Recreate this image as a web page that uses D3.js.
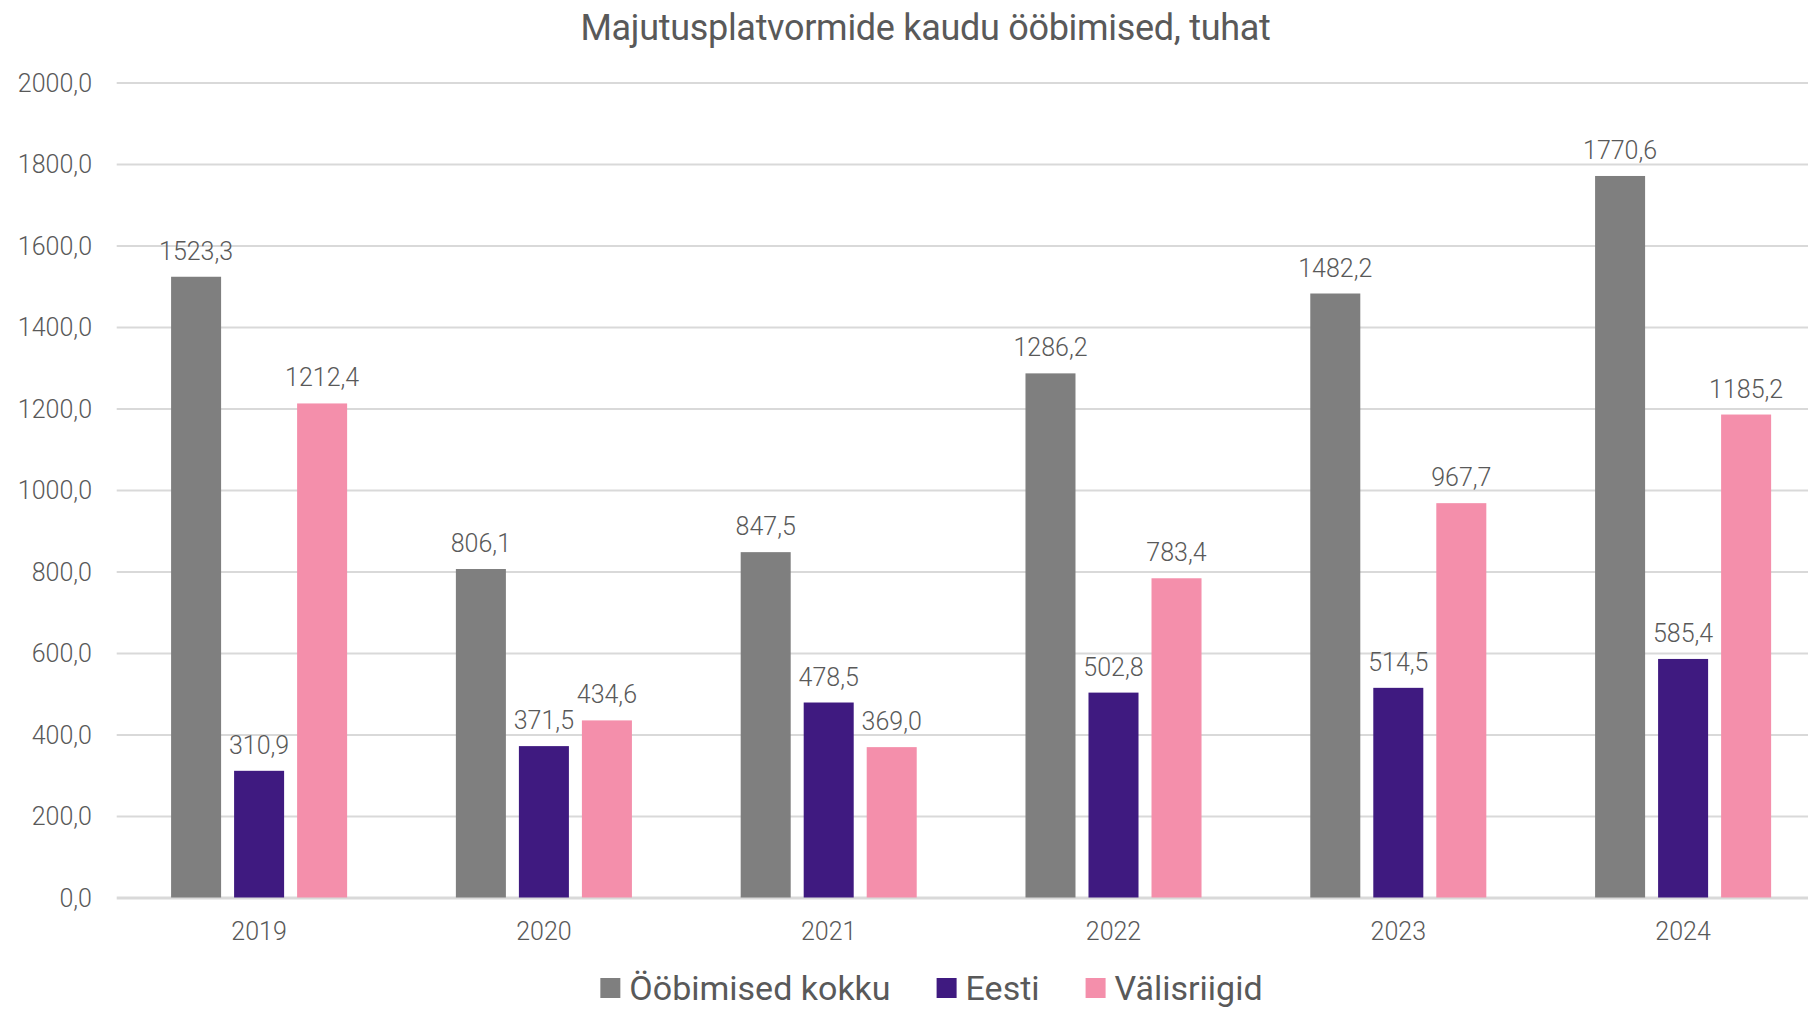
<!DOCTYPE html>
<html>
<head>
<meta charset="utf-8">
<script src="https://cdn.jsdelivr.net/npm/d3@7"></script>
<style>
  html, body { margin: 0; padding: 0; background: #fff; }
  svg { display: block; font-family: Roboto, "Noto Sans", sans-serif; }
</style>
</head>
<body>
<svg id="chart" width="1808" height="1010"></svg>
<script>
const title = "Majutusplatvormide kaudu ööbimised, tuhat";
const years = ["2019", "2020", "2021", "2022", "2023", "2024"];
const seriesNames = ["Ööbimised kokku", "Eesti", "Välisriigid"];
const seriesColors = ["#7f7f7f", "#3f1a80", "#f48fab"];
const kokku = [1523.3, 806.1, 847.5, 1286.2, 1482.2, 1770.6];
const eesti = [310.9, 371.5, 478.5, 502.8, 514.5, 585.4];
const valis = [1212.4, 434.6, 369.0, 783.4, 967.7, 1185.2];
const yTicks = [0, 200, 400, 600, 800, 1000, 1200, 1400, 1600, 1800, 2000];

(function () {
const seriesValues = [kokku, eesti, valis];
const data = years.map((yr, i) => ({
  year: yr,
  values: seriesNames.map((s, j) => ({ key: s, idx: j, value: seriesValues[j][i] }))
}));

const locale = d3.formatLocale({ decimal: ",", thousands: "", grouping: [3], currency: ["", ""] });
const fmt = locale.format(".1f");

const svg = d3.select("#chart");
const textColor = "#595959";
const pLeft = 116.7, pRight = 1825.5, pTop = 82.5, pBottom = 897.5;

const x0 = d3.scaleBand().domain(years).range([pLeft, pRight]).padding(0);
const x1 = d3.scaleBand().domain(seriesNames).range([0, x0.bandwidth()])
  .paddingInner(0.2063).paddingOuter(0.863);
const y = d3.scaleLinear().domain([0, 2000]).range([pBottom, pTop]);

// gridlines
const grid = svg.append("g")
  .attr("transform", `translate(${pLeft},0)`)
  .call(d3.axisLeft(y).tickValues(yTicks).tickSize(-(pRight - pLeft)).tickFormat(""));
grid.select(".domain").remove();
grid.selectAll(".tick line").attr("stroke", "#d9d9d9").attr("stroke-width", 2);
grid.selectAll(".tick").filter(d => d === 0).select("line").attr("stroke-width", 3);

// y axis labels
const yAxis = svg.append("g")
  .attr("transform", `translate(92,0)`)
  .call(d3.axisLeft(y).tickValues(yTicks).tickSize(0).tickPadding(0).tickFormat(fmt));
yAxis.select(".domain").remove();
yAxis.selectAll("text")
  .attr("font-size", 25).attr("fill", textColor).attr("font-weight", 300)
  .attr("font-family", "Roboto, sans-serif").attr("dy", "0.35em");

// x axis labels
const xAxis = svg.append("g")
  .attr("transform", `translate(0,${pBottom})`)
  .call(d3.axisBottom(x0).tickSize(0).tickPadding(0));
xAxis.select(".domain").remove();
xAxis.selectAll("text")
  .attr("font-size", 25).attr("fill", textColor).attr("font-weight", 300)
  .attr("font-family", "Roboto, sans-serif").attr("dy", null).attr("y", 42);

// bars
const groups = svg.append("g").selectAll("g").data(data).join("g")
  .attr("transform", d => `translate(${x0(d.year)},0)`);

groups.selectAll("rect").data(d => d.values).join("rect")
  .attr("x", d => x1(d.key))
  .attr("width", x1.bandwidth())
  .attr("y", d => y(d.value))
  .attr("height", d => y(0) - y(d.value))
  .attr("fill", d => seriesColors[d.idx]);

groups.selectAll("text").data(d => d.values).join("text")
  .attr("x", d => x1(d.key) + x1.bandwidth() / 2)
  .attr("y", d => y(d.value) - 17)
  .attr("text-anchor", "middle")
  .attr("font-size", 25).attr("font-weight", 300).attr("fill", textColor)
  .text(d => fmt(d.value));

// title
svg.append("text")
  .attr("x", 925.5).attr("y", 40)
  .attr("text-anchor", "middle")
  .attr("font-size", 36).attr("fill", textColor)
  .attr("letter-spacing", -0.3)
  .text(title);

// legend
const legend = svg.append("g");
const items = legend.selectAll("g").data(seriesNames).join("g");
items.append("rect").attr("width", 20).attr("height", 20).attr("y", 978)
  .attr("fill", (d, i) => seriesColors[i]);
items.append("text").attr("y", 1000).attr("font-size", 34).attr("fill", textColor)
  .text(d => d);
let cx = 0;
const positions = [];
items.each(function () {
  const w = d3.select(this).select("text").node().getComputedTextLength();
  positions.push(cx);
  cx += 29 + w + 46;
});
const totalW = cx - 46;
const startX = 931.5 - totalW / 2;
items.each(function (d, i) {
  const g = d3.select(this);
  g.select("rect").attr("x", startX + positions[i]);
  g.select("text").attr("x", startX + positions[i] + 29);
});
})();
</script>
</body>
</html>
